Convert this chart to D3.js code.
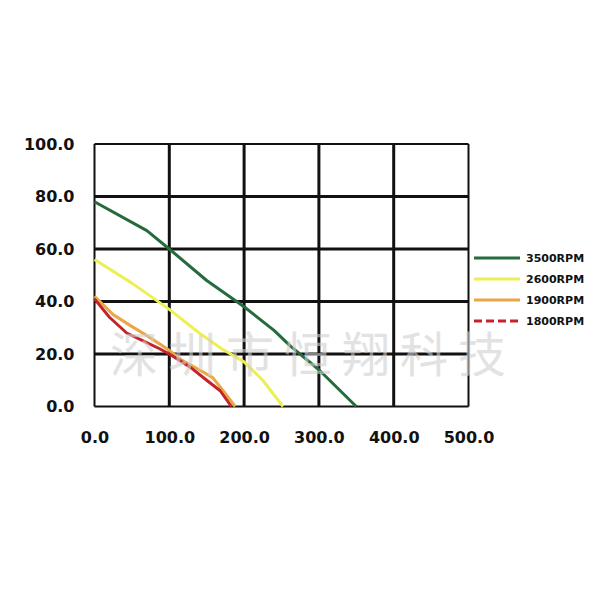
<!DOCTYPE html>
<html>
<head>
<meta charset="utf-8">
<script src="https://cdn.jsdelivr.net/npm/d3@7"></script>
<style>
  body { margin: 0; background: #fff; }
  svg { display: block; }
</style>
</head>
<body>
<svg id="chart" width="600" height="600"></svg>
<script>
// series: [flow, pressure]
var rpm3500 = [[0,78],[70,67],[100,60],[150,48],[200,38],[240,29],[262,23],[300,14],[350,0]];
var rpm2600 = [[0,56],[50,47],[80,41],[100,37],[140,28],[170,22],[200,17],[225,10],[252,0]];
var rpm1900 = [[0,42],[25,35],[47,31],[70,27],[97,22],[115,18],[140,14],[158,11],[172,6],[188,0]];
var rpm1800 = [[0,41],[20,34],[43,28],[65,25],[87,22],[100,20],[128,15],[150,10],[168,6],[183,0]];
var seriesNames = ["3500RPM", "2600RPM", "1900RPM", "1800RPM"];
var xTicks = [0, 100, 200, 300, 400, 500];
var yTicks = [0, 20, 40, 60, 80, 100];
var watermark = "深圳市恒翔科技";

var colors = ["#256b3b", "#eeee55", "#e9a847", "#c4232b"];

var svg = d3.select("#chart");
var plotLeft = 94.5, plotRight = 468.5, plotTop = 144, plotBottom = 406.5;

var x = d3.scaleLinear().domain([0, 500]).range([plotLeft, plotRight]);
var y = d3.scaleLinear().domain([0, 100]).range([plotBottom, plotTop]);

// grid
var grid = svg.append("g");
grid.selectAll("line.v").data(xTicks).enter().append("line")
    .attr("x1", d => x(d)).attr("x2", d => x(d))
    .attr("y1", plotTop).attr("y2", plotBottom)
    .attr("stroke", "#111")
    .attr("stroke-width", d => (d === 0 || d === 500) ? 2 : 3);
grid.selectAll("line.h").data(yTicks).enter().append("line")
    .attr("y1", d => y(d)).attr("y2", d => y(d))
    .attr("x1", plotLeft).attr("x2", plotRight)
    .attr("stroke", "#111")
    .attr("stroke-width", d => (d === 0 || d === 100) ? 2 : 3);

// axes labels
var fmt = d3.format(".1f");
var yAxis = svg.append("g")
    .attr("transform", "translate(" + (plotLeft - 20) + ",0)")
    .call(d3.axisLeft(y).tickValues(yTicks).tickFormat(fmt).tickSize(0));
var xAxis = svg.append("g")
    .attr("transform", "translate(0," + (plotBottom + 22) + ")")
    .call(d3.axisBottom(x).tickValues(xTicks).tickFormat(fmt).tickSize(0));
[xAxis, yAxis].forEach(function(a) {
    a.select(".domain").remove();
    a.selectAll("text")
        .attr("font-family", "DejaVu Sans")
        .attr("font-weight", "bold")
        .attr("font-size", 16)
        .attr("fill", "#111");
});
yAxis.selectAll("text").attr("x", 0);

// curves
var line = d3.line()
    .x(d => x(d[0]))
    .y(d => y(d[1]));

var allSeries = [rpm3500, rpm2600, rpm1900, rpm1800];
svg.append("g").selectAll("path").data(allSeries).enter().append("path")
    .attr("d", line)
    .attr("fill", "none")
    .attr("stroke", (d, i) => colors[i])
    .attr("stroke-width", 3)
    .attr("stroke-linejoin", "round");

// legend
var legend = svg.append("g");
var legendY = d3.scalePoint().domain(seriesNames).range([258, 321]);
seriesNames.forEach(function(name, i) {
    legend.append("line")
        .attr("x1", 474).attr("x2", 520)
        .attr("y1", legendY(name)).attr("y2", legendY(name))
        .attr("stroke", colors[i])
        .attr("stroke-width", 3)
        .attr("stroke-dasharray", i === 3 ? "8,4" : null);
    legend.append("text")
        .attr("x", 526).attr("y", legendY(name))
        .attr("dy", "0.35em")
        .attr("font-family", "DejaVu Sans")
        .attr("font-weight", "bold")
        .attr("font-size", 11)
        .attr("fill", "#111")
        .text(name);
});

// watermark
svg.append("text")
    .attr("x", 110).attr("y", 372)
    .attr("font-family", "Noto Sans CJK SC")
    .attr("font-size", 48)
    .attr("letter-spacing", 10)
    .attr("fill", "#d0d0d0")
    .attr("opacity", 0.6)
    .text(watermark);
</script>
</body>
</html>
